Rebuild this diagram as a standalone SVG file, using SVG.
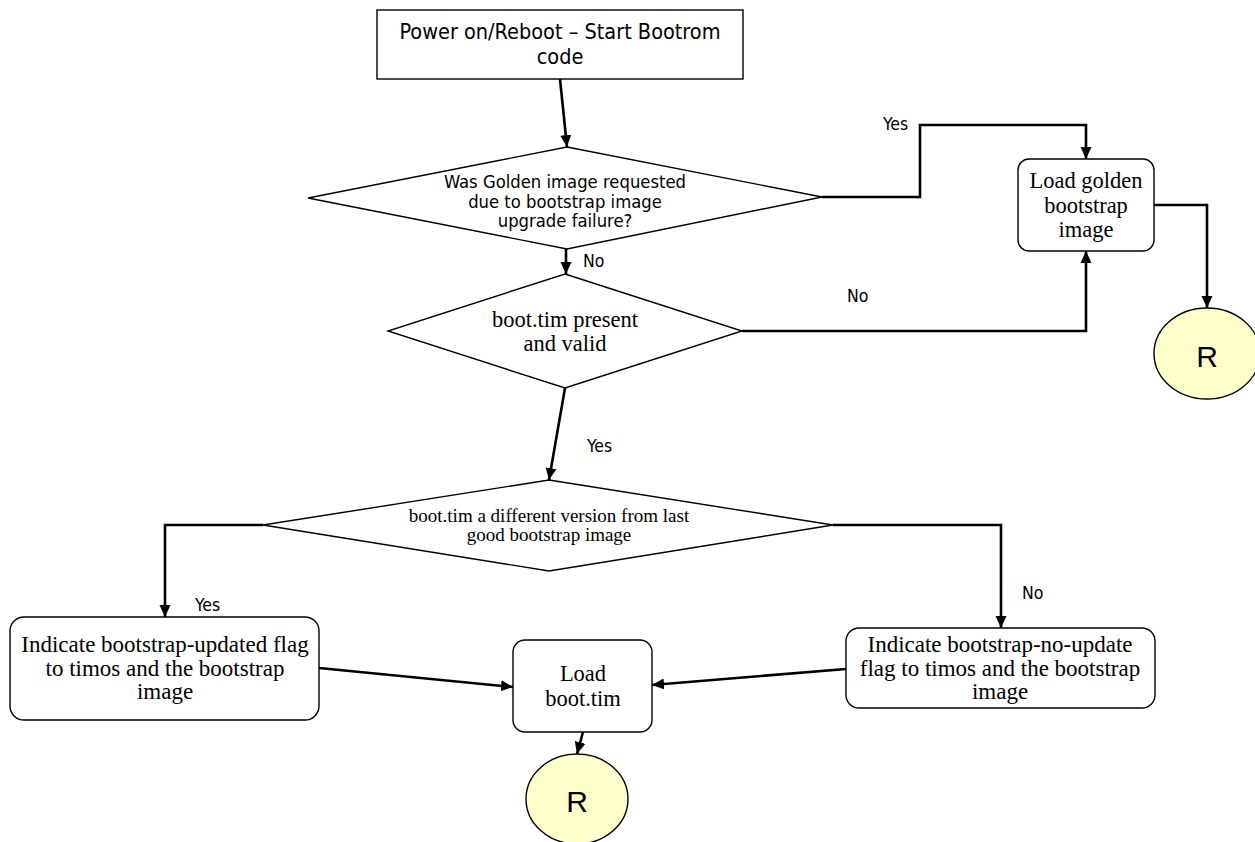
<svg xmlns="http://www.w3.org/2000/svg" width="1255" height="842" viewBox="0 0 1255 842">
<style>
.shape{fill:#fff;stroke:#000;stroke-width:1.4}
.term{fill:#ffffcc;stroke:#000;stroke-width:1.4}
.conn{fill:none;stroke:#000;stroke-width:2.6;marker-end:url(#arr)}
.sans{font-family:"DejaVu Sans Condensed","DejaVu Sans",sans-serif;font-stretch:condensed;fill:#000;text-anchor:middle}
.serif{font-family:"Liberation Serif",serif;fill:#000;text-anchor:middle}
.lbl{font-family:"DejaVu Sans Condensed","DejaVu Sans",sans-serif;font-stretch:condensed;font-size:17.5px;fill:#000}
.r{font-family:"Liberation Sans",Arial,sans-serif;font-size:30px;fill:#000;text-anchor:middle}
</style>
<defs>
<marker id="arr" markerUnits="userSpaceOnUse" markerWidth="12" markerHeight="12" refX="12" refY="6" orient="auto">
<path d="M0,0.5 L12,6 L0,11.5 z" fill="#000"/>
</marker>
</defs>
<g id="connectors">
<path class="conn" d="M560,79 L567,147"/>
<path class="conn" d="M822,197 H920 V125 H1086 V159"/>
<path class="conn" d="M566,249 V274"/>
<path class="conn" d="M742,331 H1086 V251"/>
<path class="conn" d="M1154,205 H1207 V308"/>
<path class="conn" d="M565,388 L549,480"/>
<path class="conn" d="M263,525 H165 V617"/>
<path class="conn" d="M833,525 H1001 V628"/>
<path class="conn" d="M319,668 L513,687"/>
<path class="conn" d="M846,669 L652,685"/>
<path class="conn" d="M583,732 L577,754"/>
</g>
<g id="labels">
<text class="lbl" x="883" y="130">Yes</text>
<text class="lbl" x="583" y="267">No</text>
<text class="lbl" x="847" y="302">No</text>
<text class="lbl" x="587" y="452">Yes</text>
<text class="lbl" x="195" y="611">Yes</text>
<text class="lbl" x="1022" y="599">No</text>
</g>
<g id="start">
<rect class="shape" x="377" y="10" width="366" height="69"/>
<text class="sans" font-size="21.5" x="560" y="38.5">Power on/Reboot – Start Bootrom</text>
<text class="sans" font-size="21.5" x="560" y="63.5">code</text>
</g>
<g id="golden-requested">
<polygon class="shape" points="567,147 822,197 567,249 308,198"/>
<text class="sans" font-size="18.3" x="565" y="188">Was Golden image requested</text>
<text class="sans" font-size="18.3" x="565" y="207.5">due to bootstrap image</text>
<text class="sans" font-size="18.3" x="565" y="227">upgrade failure?</text>
</g>
<g id="load-golden">
<rect class="shape" x="1018" y="159" width="136" height="92" rx="11"/>
<text class="serif" font-size="22.5" x="1086" y="188">Load golden</text>
<text class="serif" font-size="22.5" x="1086" y="212.5">bootstrap</text>
<text class="serif" font-size="22.5" x="1086" y="237">image</text>
</g>
<g id="r-right">
<ellipse class="term" cx="1207" cy="353.5" rx="53" ry="45.5"/>
<text class="r" x="1207" y="367">R</text>
</g>
<g id="boot-present">
<polygon class="shape" points="565,274 742,331 565,388 388,331"/>
<text class="serif" font-size="22.5" x="565" y="327">boot.tim present</text>
<text class="serif" font-size="22.5" x="565" y="351">and valid</text>
</g>
<g id="different-version">
<polygon class="shape" points="549,480 833,525 549,571 263,525"/>
<text class="serif" font-size="19" x="549" y="522">boot.tim a different version from last</text>
<text class="serif" font-size="19" x="549" y="541">good bootstrap image</text>
</g>
<g id="updated-flag">
<rect class="shape" x="10" y="617" width="309" height="103" rx="14"/>
<text class="serif" font-size="23" x="165" y="652">Indicate bootstrap-updated flag</text>
<text class="serif" font-size="23" x="165" y="675.5">to timos and the bootstrap</text>
<text class="serif" font-size="23" x="165" y="699">image</text>
</g>
<g id="no-update-flag">
<rect class="shape" x="846" y="628" width="309" height="80" rx="13"/>
<text class="serif" font-size="23" x="1000" y="652">Indicate bootstrap-no-update</text>
<text class="serif" font-size="23" x="1000" y="676">flag to timos and the bootstrap</text>
<text class="serif" font-size="23" x="1000" y="699">image</text>
</g>
<g id="load-boot">
<rect class="shape" x="513" y="640" width="139" height="92" rx="12"/>
<text class="serif" font-size="22.5" x="583" y="681">Load</text>
<text class="serif" font-size="22.5" x="583" y="706">boot.tim</text>
</g>
<g id="r-bottom">
<ellipse class="term" cx="577" cy="799" rx="51" ry="45"/>
<text class="r" x="577" y="812">R</text>
</g>
</svg>
